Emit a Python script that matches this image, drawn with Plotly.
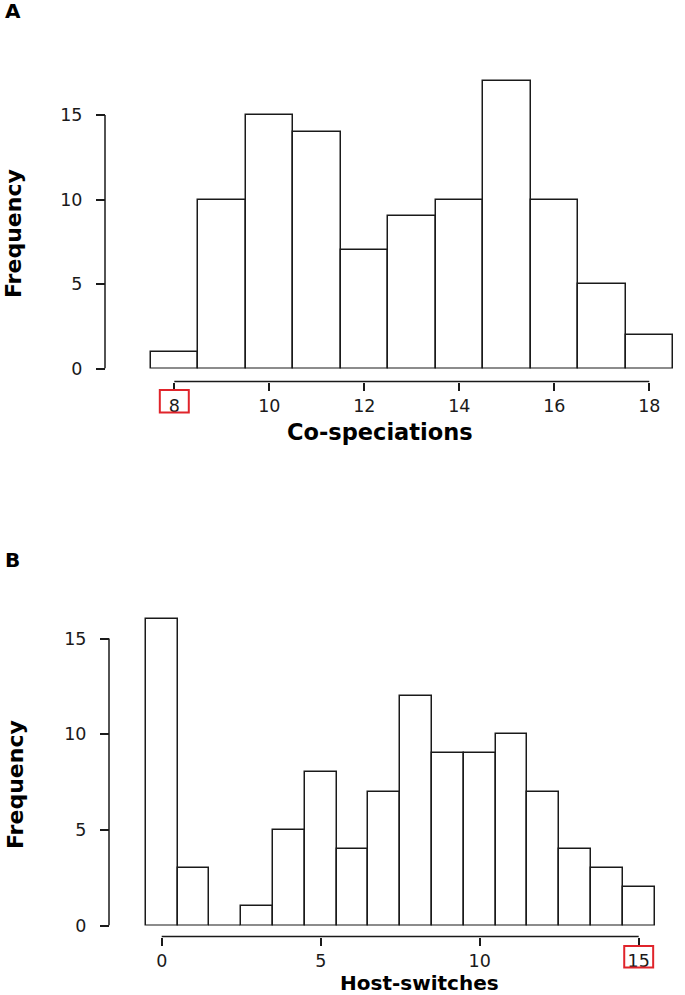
import plotly.graph_objects as go

# ---- data ----
cosp_values = [8, 9, 10, 11, 12, 13, 14, 15, 16, 17, 18]
cosp_counts = [1, 10, 15, 14, 7, 9, 10, 17, 10, 5, 2]
cosp_xticks = [8, 10, 12, 14, 16, 18]

host_values = [0, 1, 2, 3, 4, 5, 6, 7, 8, 9, 10, 11, 12, 13, 14, 15]
host_counts = [16, 3, 0, 1, 5, 8, 4, 7, 12, 9, 9, 10, 7, 4, 3, 2]
host_xticks = [0, 5, 10, 15]

yticks = [0, 5, 10, 15]
cosp_highlight = 8
host_highlight = 15

W, H = 685, 995
INK = "#1a1a1a"
FONT = "DejaVu Sans"

def py(p):
    return 1 - p / H

def px(p):
    return p / W

fig = go.Figure()

# ---------- Panel A geometry (pixels) ----------
A_x0_px, A_x0_val, A_unit = 174.3, 8, 47.5
A_base_px, A_yunit = 368.5, 16.9
A_top_px = 55.0
A_xaxis_px, A_yaxis_px = 381.5, 105.0

# ---------- Panel B geometry ----------
B_x0_px, B_x0_val, B_unit = 161.7, 0, 31.8
B_base_px, B_yunit = 925.5, 19.13
B_top_px = 600.0
B_xaxis_px, B_yaxis_px = 936.5, 109.0

def xrange_for(x0_px, x0_val, unit):
    return [x0_val - x0_px / unit, x0_val + (W - x0_px) / unit]

bar_style = dict(marker=dict(color="white", line=dict(color=INK, width=1.5)),
                 width=1, showlegend=False, hoverinfo="x+y")

fig.add_trace(go.Bar(x=cosp_values, y=cosp_counts, xaxis="x", yaxis="y", **bar_style))
fig.add_trace(go.Bar(x=host_values, y=host_counts, xaxis="x2", yaxis="y2", **bar_style))

tickfont = dict(family=FONT, size=17.5, color=INK)

def xaxis_cfg(rng, ticks, pos):
    return dict(domain=[0, 1], range=rng, tickvals=ticks, ticktext=[str(t) for t in ticks],
                anchor="free", position=pos, showline=False, showgrid=False, zeroline=False,
                ticks="outside", ticklen=8, tickwidth=1.5, tickcolor=INK, tickfont=tickfont,
                automargin=False, fixedrange=True, ticklabelstandoff=0)

def yaxis_cfg(dom, rng, pos):
    return dict(domain=dom, range=rng, tickvals=yticks, ticktext=[str(t) for t in yticks],
                anchor="free", position=pos, showline=False, showgrid=False, zeroline=False,
                ticks="outside", ticklen=9, tickwidth=1.5, tickcolor=INK, tickfont=tickfont,
                automargin=False, fixedrange=True, ticklabelstandoff=10)

fig.update_layout(
    template="none",
    width=W, height=H,
    margin=dict(l=0, r=0, t=0, b=0, autoexpand=False),
    paper_bgcolor="white", plot_bgcolor="rgba(0,0,0,0)",
    bargap=0,
    xaxis=xaxis_cfg(xrange_for(A_x0_px, A_x0_val, A_unit), cosp_xticks, py(A_xaxis_px)),
    yaxis=yaxis_cfg([py(A_base_px), py(A_top_px)], [0, (A_base_px - A_top_px) / A_yunit], px(A_yaxis_px)),
    xaxis2=xaxis_cfg(xrange_for(B_x0_px, B_x0_val, B_unit), host_xticks, py(B_xaxis_px)),
    yaxis2=yaxis_cfg([py(B_base_px), py(B_top_px)], [0, (B_base_px - B_top_px) / B_yunit], px(B_yaxis_px)),
)

line = dict(color=INK, width=1.5)
# detached R-style axis lines spanning first to last tick
fig.add_shape(type="line", xref="x", yref="paper", x0=cosp_xticks[0], x1=cosp_xticks[-1],
              y0=py(A_xaxis_px), y1=py(A_xaxis_px), line=line)
fig.add_shape(type="line", xref="paper", yref="y", x0=px(A_yaxis_px), x1=px(A_yaxis_px),
              y0=yticks[0], y1=yticks[-1], line=line)
fig.add_shape(type="line", xref="x2", yref="paper", x0=host_xticks[0], x1=host_xticks[-1],
              y0=py(B_xaxis_px), y1=py(B_xaxis_px), line=line)
fig.add_shape(type="line", xref="paper", yref="y2", x0=px(B_yaxis_px), x1=px(B_yaxis_px),
              y0=yticks[0], y1=yticks[-1], line=line)

# red highlight boxes around tick labels
red = dict(color="#e0242b", width=2)
fig.add_shape(type="rect", xref="x", yref="paper", x0=cosp_highlight - 0.305, x1=cosp_highlight + 0.305,
              y0=py(412.5), y1=py(390), line=red)
fig.add_shape(type="rect", xref="x2", yref="paper", x0=host_highlight - 0.455, x1=host_highlight + 0.455,
              y0=py(967.5), y1=py(946), line=red)

ann = [
    dict(text="<b>A</b>", x=px(3), y=py(11), xanchor="left", yanchor="middle",
         font=dict(family=FONT, size=20, color="black")),
    dict(text="<b>B</b>", x=px(3), y=py(560), xanchor="left", yanchor="middle",
         font=dict(family=FONT, size=20, color="black")),
    dict(text="<b>Co-speciations</b>", x=px(380), y=py(432), xanchor="center", yanchor="middle",
         font=dict(family=FONT, size=22.5, color="black")),
    dict(text="<b>Host-switches</b>", x=px(419.5), y=py(983), xanchor="center", yanchor="middle",
         font=dict(family=FONT, size=20, color="black")),
    dict(text="<b>Frequency</b>", x=px(13), y=py(234), xanchor="center", yanchor="middle", textangle=-90,
         font=dict(family=FONT, size=22, color="black")),
    dict(text="<b>Frequency</b>", x=px(15), y=py(785), xanchor="center", yanchor="middle", textangle=-90,
         font=dict(family=FONT, size=22, color="black")),
]
for a in ann:
    a.update(xref="paper", yref="paper", showarrow=False)
fig.update_layout(annotations=ann)

fig.write_html("out.html", config={"displayModeBar": False},
               post_script="document.body.style.margin='0px';")
